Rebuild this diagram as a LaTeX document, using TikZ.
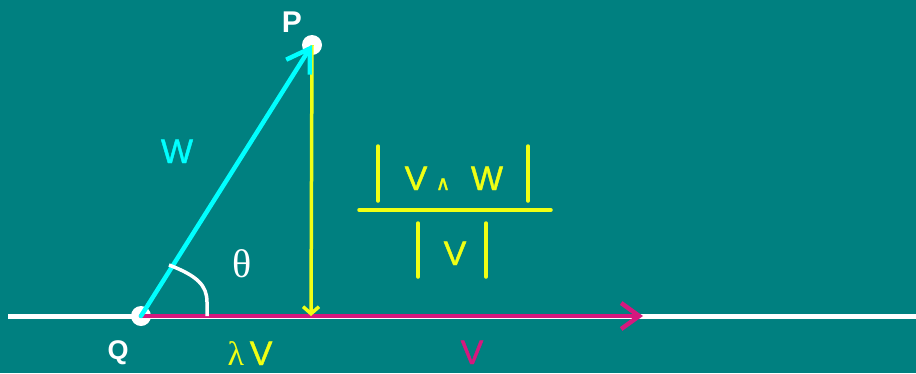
\documentclass[tikz,border=0pt]{standalone}
\usepackage{fontspec}
\setmainfont{Liberation Sans}
\newfontfamily\medsans[FakeBold=1.2]{Liberation Sans}
\newfontfamily\symfont[FakeBold=1.5]{DejaVu Sans}
\newfontfamily\grkfont{Liberation Serif}
\usetikzlibrary{arrows.meta}
\definecolor{bgteal}{RGB}{0,128,128}
\definecolor{vcyan}{RGB}{0,255,255}
\definecolor{vyellow}{RGB}{240,255,20}
\definecolor{vmag}{RGB}{214,24,126}
\tikzset{
  pt/.style={circle,fill=white,minimum size=20pt,inner sep=0pt},
  lbl/.style={inner sep=0pt,anchor=base,font=\fontsize{34}{34}\selectfont\medsans},
  bar/.style={vyellow,line width=3.5pt,line cap=round},
  vec/.style={line width=4.5pt,line cap=round},
}
\begin{document}
\begin{tikzpicture}[x=1pt,y=-1pt]
\fill[bgteal] (0,0) rectangle (916,373);
\useasboundingbox (0,0) rectangle (916,373);
% base line
\coordinate (L) at (8,316);
\coordinate (R) at (916,316);
\draw[white,line width=5pt] (L) -- (R);
\node[pt] (Q) at (141,316) {};
\node[pt] (P) at (312,45) {};
\coordinate (F) at (311,316);
\coordinate (VE) at (643,316);
% vectors
\draw[vec,vmag,-{Straight Barb[length=18pt,width=26pt,line width=4.5pt]}] (Q.center) -- (VE);
\draw[vyellow,line width=3.5pt,-{Straight Barb[length=7pt,width=16pt,line width=3.5pt]}] (P.center) -- (F);
\draw[vec,vcyan,-{Straight Barb[length=22pt,width=28pt,line width=4.5pt]}] (Q.center) -- (P.center);
% angle
\coordinate (A1) at (169,265);
\coordinate (A2) at (207,316);
\draw[white,line width=3.5pt] (A1) .. controls (198,276) and (207,286) .. (207,302) -- (A2);
% labels
\node[lbl,text=white,font=\fontsize{30}{30}\selectfont\bfseries] (Pl) at (292,32) {P};
\node[lbl,text=white,font=\fontsize{27}{27}\selectfont\bfseries] (Ql) at (118,359) {Q};
\node[lbl,text=vcyan] (Wl) at (177,163) {W};
\node[lbl,text=white,font=\fontsize{40}{40}\selectfont\grkfont] (th) at (242,277) {θ};
\node[lbl,text=vyellow] (lam) at (250,365) {{\fontsize{34}{34}\selectfont\grkfont λ}\,V};
\node[lbl,text=vmag] (Vl) at (472,364) {V};
% fraction
\draw[bar] (378,146) -- (378,201);
\draw[bar] (528,146) -- (528,201);
\draw[bar] (359,210) -- (551,210);
\draw[bar] (418,223) -- (418,277);
\draw[bar] (486,223) -- (486,277);
\node[lbl,text=vyellow] (v1) at (416,190) {V};
\node[lbl,text=vyellow,font=\fontsize{20}{20}\selectfont\symfont] (wedge) at (443,190) {∧};
\node[lbl,text=vyellow] (w1) at (487,190) {W};
\node[lbl,text=vyellow] (v2) at (455,265) {V};
\end{tikzpicture}
\end{document}
